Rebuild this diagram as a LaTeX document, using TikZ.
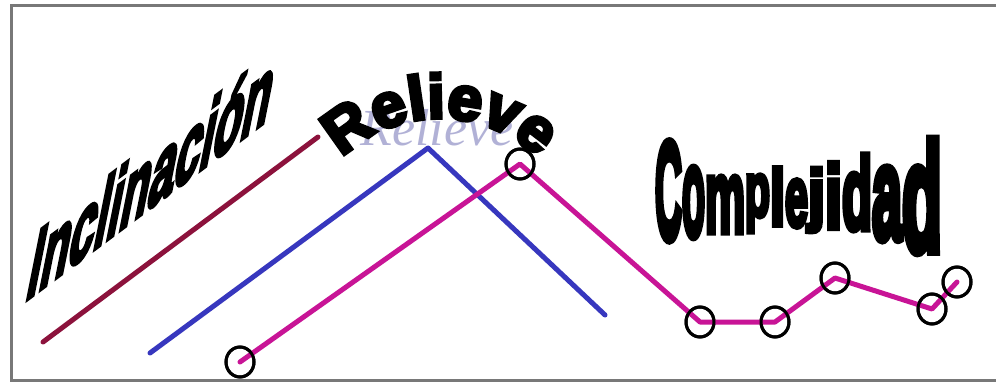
\documentclass[tikz,border=0pt]{standalone}
\usepackage{fontspec}
\usetikzlibrary{decorations.text,shapes.geometric}
\newfontfamily\wafont{Liberation Sans Bold}[FakeBold=5]
\newfontfamily\wafontH{Liberation Sans Bold}[FakeBold=6]
\newfontfamily\wafontC{Liberation Sans Bold}[FakeBold=7]
\newfontfamily\faintfont{Liberation Serif Italic}
\definecolor{inclc}{RGB}{140,18,60}
\definecolor{relc}{RGB}{55,55,190}
\definecolor{compc}{RGB}{200,20,150}
\definecolor{framec}{RGB}{120,120,120}
\begin{document}
\begin{tikzpicture}[x=1pt,y=1pt,
  ln/.style={line width=5pt, line cap=round, line join=round},
  ring/.style={ellipse, draw=black, line width=3pt, minimum width=28pt, minimum height=30pt, inner sep=0pt},
  wa/.style={inner sep=0pt, outer sep=0pt}]
\useasboundingbox (0,0) rectangle (996,384);
\fill[white] (0,0) rectangle (996,384);
% frame
\draw[framec, line width=3pt] (1000,4) -- (11,4) -- (11,378) -- (1000,378);
% faint original label
\node[wa, text=relc!60!gray, opacity=0.45, font=\faintfont\fontsize{52}{52}\selectfont] (faint) at (437,256) {Relieve};
% inclination line
\coordinate (i1) at (43,42);
\coordinate (i2) at (318,247);
\draw[ln, inclc] (i1) -- (i2);
% relief line
\coordinate (r1) at (150,31);
\coordinate (r2) at (428,236);
\coordinate (r3) at (605,69);
\draw[ln, relc] (r1) -- (r2) -- (r3);
% complexity line with rings
\node[ring] (m1) at (240,22) {};
\node[ring] (m2) at (520,220) {};
\node[ring] (m3) at (700,62) {};
\node[ring] (m4) at (775,62) {};
\node[ring] (m5) at (835,106) {};
\node[ring] (m6) at (932,75) {};
\node[ring] (m7) at (957,102) {};
\draw[ln, compc] (m1.center) -- (m2.center) -- (m3.center) -- (m4.center) -- (m5.center) -- (m6.center) -- (m7.center);
\foreach \n in {m1,m2,m3,m4,m5,m6,m7} \node[ring] at (\n) {};
% Inclinacion
\begin{scope}[shift={(24,82)}, cm={0.455,0.34,0.2,1,(0,0)}]
\node[wa, transform shape, anchor=base west, font=\wafont\fontsize{102}{102}\selectfont] (incl) at (0,0) {Inclinación};
\end{scope}
% Relieve
\path[decorate, decoration={text along path, text={|\wafontH\fontsize{62}{62}\selectfont|Relieve}, text align=center}]
  (341.9,225.8) arc[start angle=134.5, end angle=45.5, radius=140];
% Complejidad
\foreach \L/\xa/\xb/\yt/\yb [count=\i] in {C/655/682/142/240, o/682/705/168/237, m/705/745/177/232, p/745/770/175/232, l/770/785/168/225, e/785/808/180/227, j/808/825/168/232, i/825/842/163/228, d/842/872/155/230, a/872/902/168/240, d/902/942/140/252}{
  \pgfmathsetmacro\ww{\xb-\xa}
  \pgfmathsetmacro\hh{\yb-\yt}
  \node[wa, anchor=south west] (c\i) at (\xa,384-\yb) {\resizebox*{\ww pt}{\hh pt}{\wafontC\fontsize{20}{20}\selectfont \L}};
}
\end{tikzpicture}
\end{document}
